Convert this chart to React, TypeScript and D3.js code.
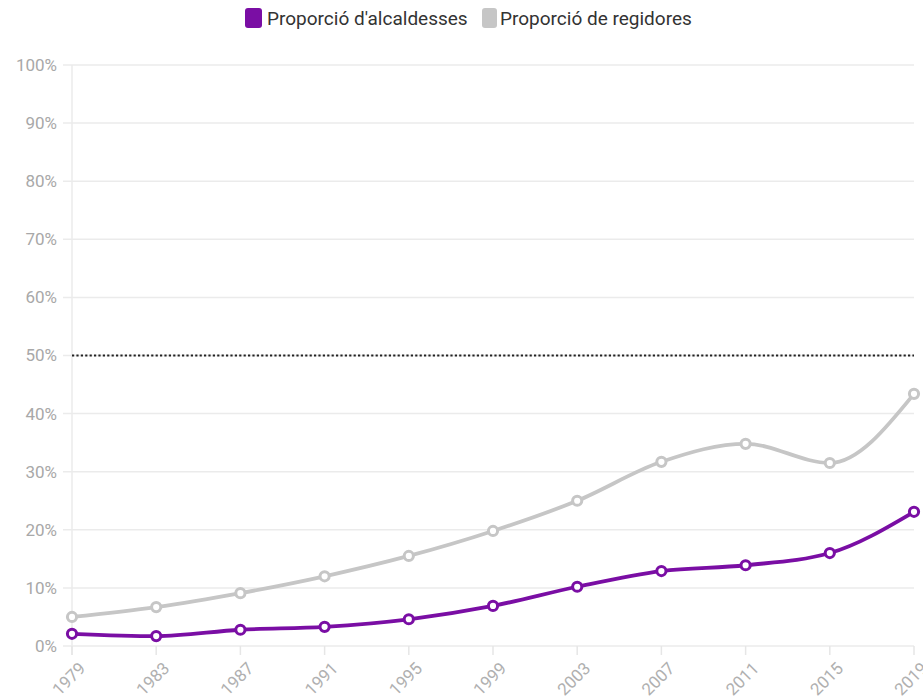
import React from "react";
import * as d3 from "d3";

const years = ["1979", "1983", "1987", "1991", "1995", "1999", "2003", "2007", "2011", "2015", "2019"];
const alcaldesses = [2.1, 1.7, 2.8, 3.3, 4.6, 6.9, 10.2, 12.9, 13.9, 16.0, 23.1];
const regidores = [5.0, 6.7, 9.1, 12.0, 15.5, 19.8, 25.0, 31.7, 34.8, 31.5, 43.4];
const yTicks = [0, 10, 20, 30, 40, 50, 60, 70, 80, 90, 100];
const seriesNames = ["Proporció d'alcaldesses", "Proporció de regidores"];
const colors = ["#7a0ea4", "#c6c6c6"];

const W = 923, H = 700;
const left = 72, right = 914, top = 65, bottom = 646;

export default function App() {
  const x = d3.scalePoint<string>().domain(years).range([left, right]);
  const y = d3.scaleLinear().domain([0, 100]).range([bottom, top]);
  const line = d3
    .line<number>()
    .x((_, i) => x(years[i]) as number)
    .y((d) => y(d))
    .curve(d3.curveMonotoneX);
  const font = "Roboto, 'Noto Sans', sans-serif";
  const data = [regidores, alcaldesses];
  const dataColors = [colors[1], colors[0]];
  return (
    <svg
      width={W}
      height={H}
      style={{ position: "absolute", left: 0, top: 0, display: "block", fontFamily: font }}
    >
      {yTicks.map((t) => (
        <g key={t}>
          <line x1={left - 9} x2={right} y1={y(t)} y2={y(t)} stroke="#ebebeb" strokeWidth={1.5} />
          <text x={left - 15} y={y(t)} dy="0.35em" textAnchor="end" fontSize={17} fill="#a8a8a8">
            {t}%
          </text>
        </g>
      ))}
      <line x1={left} x2={left} y1={top} y2={bottom + 9} stroke="#ebebeb" strokeWidth={1.5} />
      {years.map((yr) => {
        const xp = x(yr) as number;
        return (
          <g key={yr}>
            <line x1={xp} x2={xp} y1={bottom} y2={bottom + 9} stroke="#e6e6e6" strokeWidth={1.5} />
            <text
              transform={`translate(${xp + 6},${bottom + 15}) rotate(-45)`}
              textAnchor="end"
              dy="0.7em"
              fontSize={17}
              fill="#b0b0b0"
            >
              {yr}
            </text>
          </g>
        );
      })}
      <line x1={left} x2={right} y1={y(50)} y2={y(50)} stroke="#222" strokeWidth={2.2} strokeDasharray="2.2,2.2" />
      {data.map((s, si) => (
        <g key={si}>
          <path d={line(s) || ""} fill="none" stroke={dataColors[si]} strokeWidth={3.8} />
          {s.map((v, i) => (
            <circle
              key={i}
              cx={x(years[i]) as number}
              cy={y(v)}
              r={4.6}
              fill="#fff"
              stroke={dataColors[si]}
              strokeWidth={3}
            />
          ))}
        </g>
      ))}
      <g>
        <rect x={245} y={8} width={17} height={20} rx={3} fill={colors[0]} />
        <text x={267} y={18} dy="0.35em" fontSize={19} fill="#333">
          {seriesNames[0]}
        </text>
        <rect x={482} y={8} width={15} height={20} rx={3} fill={colors[1]} />
        <text x={500} y={18} dy="0.35em" fontSize={19} fill="#333">
          {seriesNames[1]}
        </text>
      </g>
    </svg>
  );
}
